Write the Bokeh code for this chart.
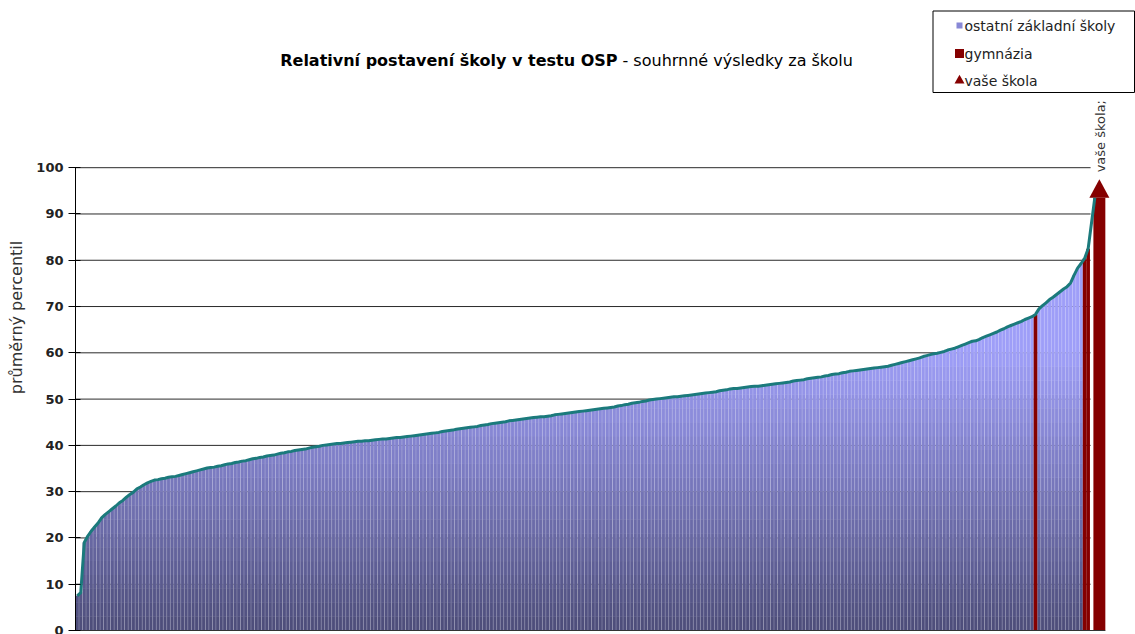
import numpy as np
from bokeh.plotting import figure
from bokeh.models import Range1d, FixedTicker
from bokeh.embed import file_html
from bokeh.resources import INLINE
from bokeh.core.properties import value

# ---------------- data ----------------
# average percentile of every school, sorted ascending (one value per bar)
percentil = [
    7.5, 8.2, 19.0, 20.4, 21.5, 22.4, 23.3, 24.4, 25.1, 25.7,
    26.3, 26.9, 27.6, 28.1, 28.8, 29.4, 29.9, 30.6, 31.0, 31.5,
    31.9, 32.2, 32.5, 32.6, 32.8, 32.9, 33.1, 33.2, 33.3, 33.5,
    33.7, 33.9, 34.1, 34.3, 34.5, 34.7, 34.9, 35.1, 35.2, 35.3,
    35.5, 35.6, 35.8, 36.0, 36.1, 36.3, 36.4, 36.6, 36.7, 36.9,
    37.1, 37.2, 37.4, 37.5, 37.7, 37.8, 37.9, 38.1, 38.3, 38.4,
    38.6, 38.7, 38.9, 39.0, 39.1, 39.2, 39.4, 39.6, 39.7, 39.8,
    40.0, 40.1, 40.2, 40.3, 40.4, 40.4, 40.5, 40.6, 40.7, 40.8,
    40.9, 40.9, 41.0, 41.0, 41.1, 41.2, 41.3, 41.4, 41.4, 41.5,
    41.6, 41.7, 41.7, 41.8, 41.9, 42.0, 42.1, 42.2, 42.3, 42.4,
    42.5, 42.6, 42.7, 42.8, 43.0, 43.1, 43.2, 43.3, 43.5, 43.6,
    43.7, 43.8, 43.9, 44.0, 44.1, 44.3, 44.4, 44.5, 44.7, 44.8,
    44.9, 45.0, 45.1, 45.3, 45.4, 45.5, 45.6, 45.7, 45.8, 45.9,
    46.0, 46.1, 46.2, 46.2, 46.3, 46.4, 46.6, 46.7, 46.8, 46.9,
    47.0, 47.1, 47.2, 47.3, 47.4, 47.5, 47.6, 47.7, 47.8, 47.9,
    48.0, 48.1, 48.2, 48.3, 48.5, 48.6, 48.8, 48.9, 49.1, 49.2,
    49.3, 49.5, 49.6, 49.8, 49.9, 50.0, 50.1, 50.2, 50.3, 50.4,
    50.5, 50.5, 50.6, 50.7, 50.8, 50.9, 51.0, 51.1, 51.2, 51.3,
    51.4, 51.5, 51.6, 51.8, 51.9, 52.0, 52.2, 52.3, 52.3, 52.4,
    52.5, 52.6, 52.7, 52.8, 52.8, 52.9, 53.0, 53.1, 53.2, 53.3,
    53.4, 53.5, 53.6, 53.7, 53.9, 54.0, 54.1, 54.2, 54.4, 54.5,
    54.6, 54.7, 54.8, 55.0, 55.1, 55.3, 55.4, 55.5, 55.7, 55.8,
    56.0, 56.1, 56.2, 56.3, 56.4, 56.5, 56.6, 56.7, 56.8, 56.9,
    57.0, 57.1, 57.3, 57.5, 57.7, 57.9, 58.1, 58.3, 58.5, 58.7,
    58.9, 59.2, 59.4, 59.6, 59.8, 59.9, 60.1, 60.3, 60.6, 60.8,
    61.0, 61.3, 61.6, 61.9, 62.2, 62.5, 62.6, 62.9, 63.3, 63.6,
    63.9, 64.2, 64.5, 64.9, 65.2, 65.6, 65.9, 66.2, 66.5, 66.8,
    67.2, 67.5, 67.8, 68.3, 69.5, 70.2, 70.8, 71.5, 72.0, 72.6,
    73.2, 73.8, 74.3, 75.1, 76.8, 78.3, 79.3, 80.4, 82.5,
]
# positions (in the sorted order) of the gymnázia
gymnazia_poradi = [273, 287, 288]
# your school
vase_skola_percentil = 93.5

y_ticks = [0, 10, 20, 30, 40, 50, 60, 70, 80, 90, 100]
title_bold = "Relativní postavení školy v testu OSP"
title_rest = "- souhrnné výsledky za školu"
y_label = "průměrný percentil"
vase_label = "vaše škola;"
legend_labels = ["ostatní základní školy", "gymnázia", "vaše škola"]

# ---------------- layout / style ----------------
FONT = "DejaVu Sans"
MAROON = "#850000"
TEAL = "#1b7a7c"
N = len(percentil)
PX_X = 3.51            # px per school
PX_Y = 4.628           # px per percentile unit
FIG_W, FIG_H = 1135, 634
LEFT = 75
X_END = (FIG_W - LEFT) / PX_X
Y0 = -(FIG_H - 630) / PX_Y
Y1 = Y0 + FIG_H / PX_Y


def sx(px):  # window pixel -> data x
    return (px - LEFT) / PX_X


def sy(py):  # window pixel -> data y
    return (630 - py) / PX_Y


p = figure(width=FIG_W, height=FIG_H, output_backend="svg", toolbar_location=None,
           x_range=Range1d(0, X_END), y_range=Range1d(Y0, Y1),
           x_axis_location=None, min_border_left=LEFT, min_border_right=0,
           min_border_top=0, min_border_bottom=0)
p.outline_line_color = None
p.background_fill_color = "white"
p.border_fill_color = "white"
p.grid.visible = False

ax = p.yaxis[0]
ax.ticker = FixedTicker(ticks=y_ticks)
ax.bounds = (0, 100)
ax.axis_line_color = "black"
ax.major_tick_line_color = "black"
ax.major_tick_in = 5
ax.major_tick_out = 7
ax.minor_tick_line_color = None
ax.major_label_standoff = 5
ax.major_label_text_font = FONT
ax.major_label_text_font_size = "13px"
ax.major_label_text_font_style = "bold"
ax.major_label_text_color = "#222222"
ax.axis_label = y_label
ax.axis_label_text_font = FONT
ax.axis_label_text_font_size = "16px"
ax.axis_label_text_font_style = "normal"
ax.axis_label_text_color = "#333333"
ax.axis_label_standoff = 7

# gridlines (behind the bars), stopping before the arrow
p.segment(x0=[0] * (len(y_ticks) - 1), x1=[N + 0.2] * (len(y_ticks) - 1),
          y0=y_ticks[1:], y1=y_ticks[1:], line_color="#2a2a2a", line_width=1)

# ---------------- bars with vertical gradient ----------------
gym = set(gymnazia_poradi)
bot_rgb = np.array([76, 76, 120])
top_rgb = np.array([158, 158, 248])
GRAD_TOP = 60.0


def grad_color(y, lighten=0.0):
    t = min(max(y / GRAD_TOP, 0.0), 1.0)
    c = bot_rgb + t * (top_rgb - bot_rgb)
    c = c + lighten * (255 - c)
    return "#%02x%02x%02x" % tuple(int(round(v)) for v in c)


# light stripes between bars (base layer)
bx, bb, bt, bc = [], [], [], []
# gradient bands (main layer)
gx, gb, gt, gc = [], [], [], []
STEP = 3.0
for i, v in enumerate(percentil):
    if i in gym:
        continue
    x = i + 0.5
    b = 0.0
    while b < v:
        t = min(b + 10.0, v)
        bx.append(x); bb.append(b); bt.append(t); bc.append(grad_color((b + t) / 2, 0.28))
        b = t
    b = 0.0
    while b < v:
        t = v if b >= GRAD_TOP else min(b + STEP, v)
        gx.append(x); gb.append(b); gt.append(t); gc.append(grad_color((b + t) / 2))
        b = t

p.vbar(x=bx, bottom=bb, top=bt, width=1.0, fill_color=bc, line_color=None)
p.vbar(x=gx, bottom=gb, top=gt, width=0.78, fill_color=gc, line_color=None)

# gymnázia
p.vbar(x=[i + 0.5 for i in gymnazia_poradi], top=[percentil[i] for i in gymnazia_poradi],
       bottom=0, width=1.04, fill_color=MAROON, line_color=None)

# vaše škola: bar + arrow head
vase_x = N + 2.7
p.vbar(x=[vase_x], top=[vase_skola_percentil], bottom=0, width=3.4,
       fill_color=MAROON, line_color=None)
p.patch(x=[vase_x - 2.85, vase_x + 2.85, vase_x],
        y=[vase_skola_percentil, vase_skola_percentil, vase_skola_percentil + 4.0],
        fill_color=MAROON, line_color=None)

# curve along the bar tops
line_x = [i + 0.5 for i in range(N)] + [vase_x - 1.3]
line_y = list(percentil) + [vase_skola_percentil]
p.line(x=line_x, y=line_y, line_color=TEAL, line_width=3, line_join="round")

# bottom axis line
p.segment(x0=[0], x1=[vase_x + 1.7], y0=[0], y1=[0], line_color="#333333", line_width=1)

# label above the arrow
p.text(x=[vase_x + 0.3], y=[vase_skola_percentil + 5.5], text=[vase_label], angle=np.pi / 2,
       text_font=value(FONT), text_font_size=value("13px"), text_color="#333333",
       text_align="left", text_baseline="middle")

# ---------------- title ----------------
p.text(x=[sx(617)], y=[sy(60)], text=[title_bold], text_font=value(FONT),
       text_font_size=value("16px"), text_font_style="bold", text_color="black",
       text_align="right", text_baseline="middle")
p.text(x=[sx(617)], y=[sy(60)], text=[title_rest], text_font=value(FONT),
       text_font_size=value("16px"), text_color="black", x_offset=5,
       text_align="left", text_baseline="middle")

# ---------------- legend ----------------
p.quad(left=[sx(932.5)], right=[sx(1134)], top=[sy(10.5)], bottom=[sy(92)],
       fill_color="white", line_color="black", line_width=1)
rows = [sy(25), sy(53), sy(80)]
p.scatter(x=[sx(959)], y=[rows[0]], marker="square", size=6,
          fill_color="#8888d6", line_color=None)
p.scatter(x=[sx(959)], y=[rows[1]], marker="square", size=9,
          fill_color=MAROON, line_color=None)
p.scatter(x=[sx(959)], y=[rows[2]], marker="triangle", size=10,
          fill_color=MAROON, line_color=None)
p.text(x=[sx(964)] * 3, y=rows, text=legend_labels, text_font=value(FONT),
       text_font_size=value("14px"), text_color="#222222",
       text_align="left", text_baseline="middle")

open("out.html", "w").write(file_html(p, INLINE))
